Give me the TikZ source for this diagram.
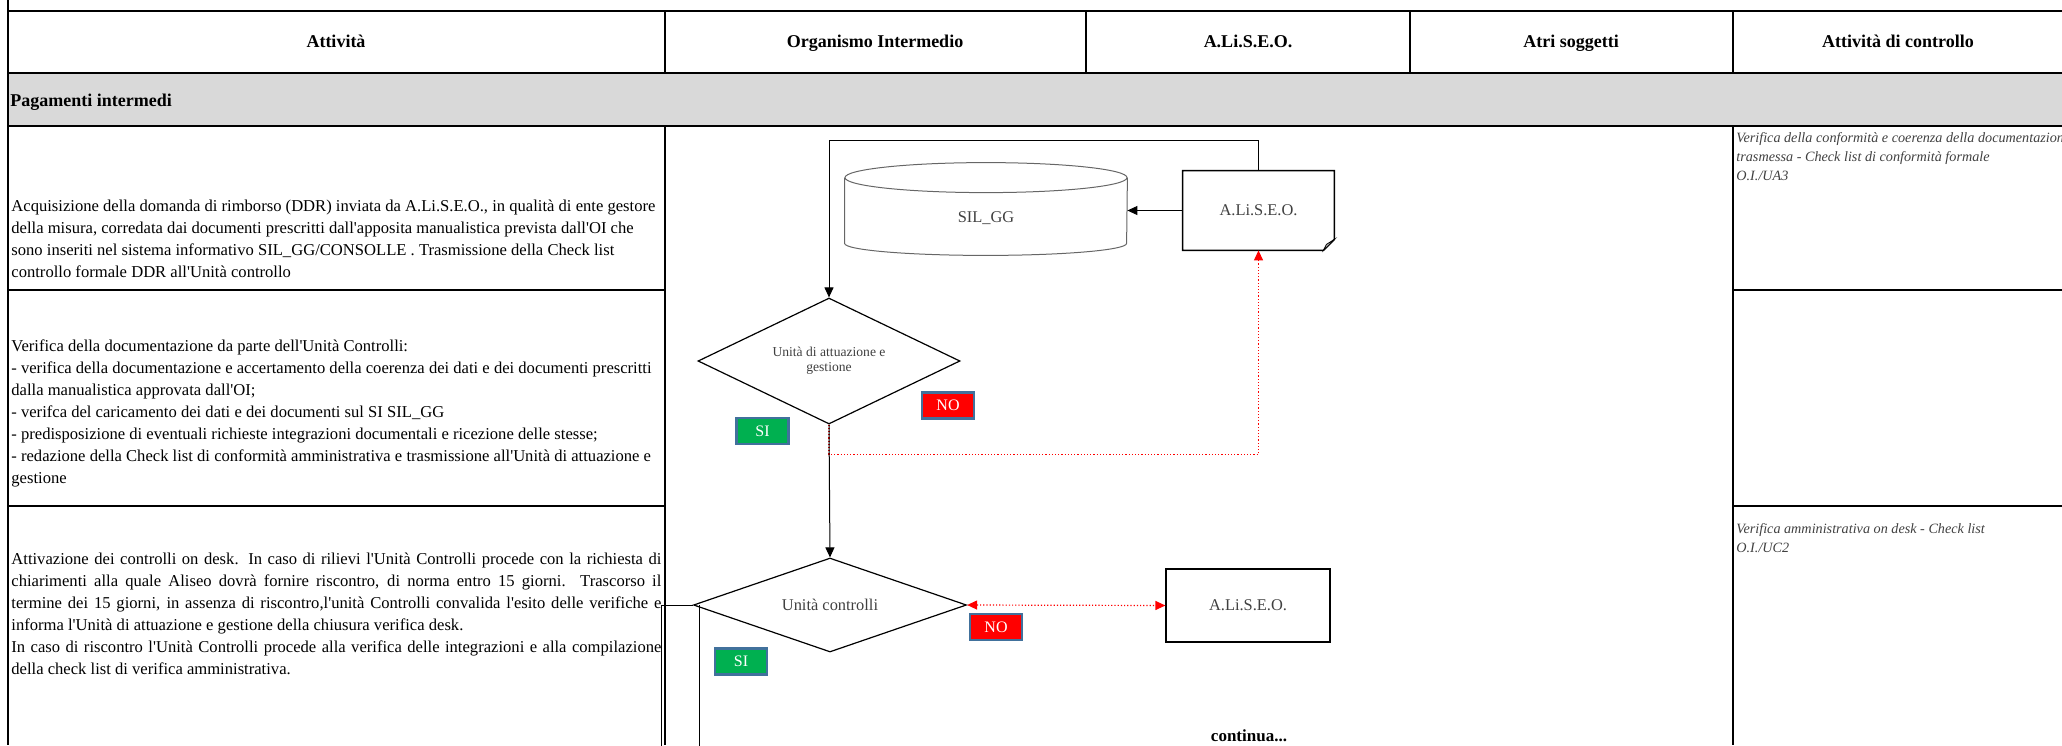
\documentclass[tikz,border=0pt]{standalone}
\usepackage{fontspec}
\setmainfont{Liberation Serif}[Ligatures=TeXOff]
\usetikzlibrary{shapes.geometric,arrows.meta,calc}

\definecolor{bandgrey}{HTML}{D9D9D9}
\definecolor{sigreen}{HTML}{00B050}
\definecolor{tagblue}{HTML}{41719C}
\definecolor{inkgrey}{HTML}{404040}

\newcommand{\jline}[1]{\makebox[325pt][s]{#1}}

\begin{document}
\begin{tikzpicture}[x=0.5pt, y=-0.5pt, >={Triangle[length=5pt,width=4.5pt]},
        grid/.style={line width=1pt},
        head/.style={text height=1.6ex, text depth=.4ex, font=\fontsize{9}{11}\selectfont\bfseries},
        body/.style={anchor=west, align=left, inner sep=0pt, font=\fontsize{8.3}{11}\selectfont},
        note/.style={anchor=west, align=left, inner sep=0pt, text=inkgrey, font=\fontsize{7.1}{9.6}\selectfont\itshape},
        flowtext/.style={text=inkgrey, font=\fontsize{8.2}{10}\selectfont},
        flow/.style={flowtext, draw, line width=0.6pt, inner sep=0pt},
        decision/.style={flow, diamond},
        tag/.style={draw=tagblue, line width=1.2pt, minimum width=26pt, minimum height=13pt, inner sep=0pt, text=white, font=\fontsize{8}{9}\selectfont},
        cyl/.style={draw=black!60, line width=0.5pt},
        link/.style={line width=0.5pt},
        back/.style={red, densely dotted, line width=0.6pt}]
        \useasboundingbox (0,0) rectangle (2062,745);

        % table
        \fill[bandgrey] (8,73) rectangle (2062,126);
        \draw[grid] (8,0) -- (8,745);
        \draw[grid] (8,11) -- (2062,11);
        \draw[grid] (8,73) -- (2062,73);
        \draw[grid] (8,126) -- (2062,126);
        \draw[grid] (665,11) -- (665,73);
        \draw[grid] (1086,11) -- (1086,73);
        \draw[grid] (1410,11) -- (1410,73);
        \draw[grid] (1733,11) -- (1733,73);
        \draw[grid] (665,126) -- (665,745);
        \draw[grid] (1733,126) -- (1733,745);
        \draw[grid] (8,290) -- (665,290);
        \draw[grid] (1733,290) -- (2062,290);
        \draw[grid] (8,506) -- (665,506);
        \draw[grid] (1733,506) -- (2062,506);

        % header row
        \node[head] (hatt) at (336,42) {Attività};
        \node[head] (horg) at (875,42) {Organismo Intermedio};
        \node[head] (hali) at (1248,42) {A.Li.S.E.O.};
        \node[head] (hatri) at (1571,42) {Atri soggetti};
        \node[head] (hctrl) at (1898,42) {Attività di controllo};
        \node[head, anchor=west, inner sep=0pt] (band) at (10,101) {Pagamenti intermedi};

        % activities
        \node[body] (row1) at (11,238.7) {Acquisizione della domanda di rimborso (DDR) inviata da  A.Li.S.E.O., in qualità di ente gestore\\
            della misura,  corredata dai documenti prescritti dall'apposita manualistica prevista dall'OI che\\
            sono inseriti nel sistema informativo SIL\_GG/CONSOLLE . Trasmissione della Check list\\
            controllo formale DDR all'Unità controllo};
        \node[body] (row2) at (11,413.6) {Verifica  della documentazione da parte dell'Unità Controlli:\\
            - verifica della documentazione e accertamento della coerenza dei dati e dei documenti prescritti\\
            dalla manualistica approvata dall'OI;\\
            - verifca del caricamento dei dati e dei documenti sul SI SIL\_GG\\
            - predisposizione di eventuali richieste integrazioni documentali e ricezione delle stesse;\\
            - redazione della Check list di conformità amministrativa  e trasmissione all'Unità di attuazione e\\
            gestione};
        \node[body] (row3) at (11,614) {\jline{Attivazione dei controlli on desk. In caso di rilievi l'Unità Controlli  procede con la richiesta di}\\
            \jline{chiarimenti alla quale Aliseo  dovrà fornire riscontro, di norma entro 15 giorni. Trascorso il}\\
            \jline{termine dei 15  giorni, in assenza di riscontro,l'unità Controlli  convalida l'esito delle verifiche e}\\
            informa l'Unità di attuazione e gestione della chiusura verifica desk.\\
            \jline{In caso di riscontro l'Unità  Controlli  procede alla verifica delle integrazioni e alla compilazione}\\
            della check list di  verifica amministrativa.};

        % control notes
        \node[note] (chk1) at (1736,156.5) {Verifica della conformità e coerenza della documentazione\\
            trasmessa - Check list di conformità formale\\
            O.I./UA3};
        \node[note] (chk3) at (1736,538) {Verifica amministrativa on desk - Check list\\
            O.I./UC2};

        % flow
        \node[flowtext, minimum width=141pt, minimum height=46pt, inner sep=0pt,
            label={[flowtext, yshift=-4.5pt]center:SIL\_GG}] (silgg) at (986,209) {};
        \draw[cyl] ($(silgg.north)+(0,15)$) ellipse [x radius=70.5pt, y radius=7.5pt];
        \draw[cyl] ($(silgg.north west)+(0,15)$) -- ($(silgg.south west)+(0,-12)$)
            arc [start angle=180, end angle=360, x radius=70.5pt, y radius=6pt] -- ($(silgg.north east)+(0,15)$);

        \node[flowtext, minimum width=75.5pt, minimum height=39.5pt, inner sep=0pt] (aliseo1) at (1258.5,210.5) {A.Li.S.E.O.};
        \draw[line width=0.8pt] (aliseo1.north west) -- (aliseo1.north east) -- ($(aliseo1.south east)+(0,-11)$)
            -- ($(aliseo1.south east)+(-11,0)$) -- (aliseo1.south west) -- cycle;
        \filldraw[fill=black!25, line width=0.4pt] ($(aliseo1.south east)+(0,-11)$) -- ($(aliseo1.south east)+(-11,0)$)
            -- ($(aliseo1.south east)+(-8,-6)$) -- cycle;

        \node[decision, aspect=2.1, minimum width=131pt, minimum height=63pt, align=center,
            font=\fontsize{6.8}{7.6}\selectfont] (attua) at (829,361) {Unità di attuazione e\\gestione};
        \node[decision, aspect=2.9, minimum width=136.5pt, minimum height=47pt] (ctrl) at (830,605) {Unità controlli};
        \node[flow, minimum width=82pt, minimum height=36.5pt] (aliseo2) at (1248,605.5) {A.Li.S.E.O.};

        \node[tag, fill=sigreen] (si1) at (762.5,431) {SI};
        \node[tag, fill=red] (no1) at (948,405.5) {NO};
        \node[tag, fill=red] (no2) at (996,627) {NO};
        \node[tag, fill=sigreen] (si2) at (741,661.5) {SI};

        \draw[link,->] (aliseo1.north) -- ++(0,-30) -| (attua.north);
        \draw[link,->] (aliseo1.west) -- (aliseo1.west -| silgg.east);
        \draw[back,->] (attua.south) -- ++(0,30) -| (aliseo1.south);
        \draw[link,->] (attua.south) -- (ctrl.north);
        \draw[back,<->] (ctrl.east) -- (aliseo2.west);
        \draw[link] (ctrl.west) -- ++(-31.5,0) -- ++(0,150);
        \draw[link] ($(ctrl.west)+(7,0)$) -- ++(0,150);

        \node[font=\fontsize{8.5}{10}\selectfont\bfseries] (next) at (1249,736) {continua...};
    \end{tikzpicture}
\end{document}
